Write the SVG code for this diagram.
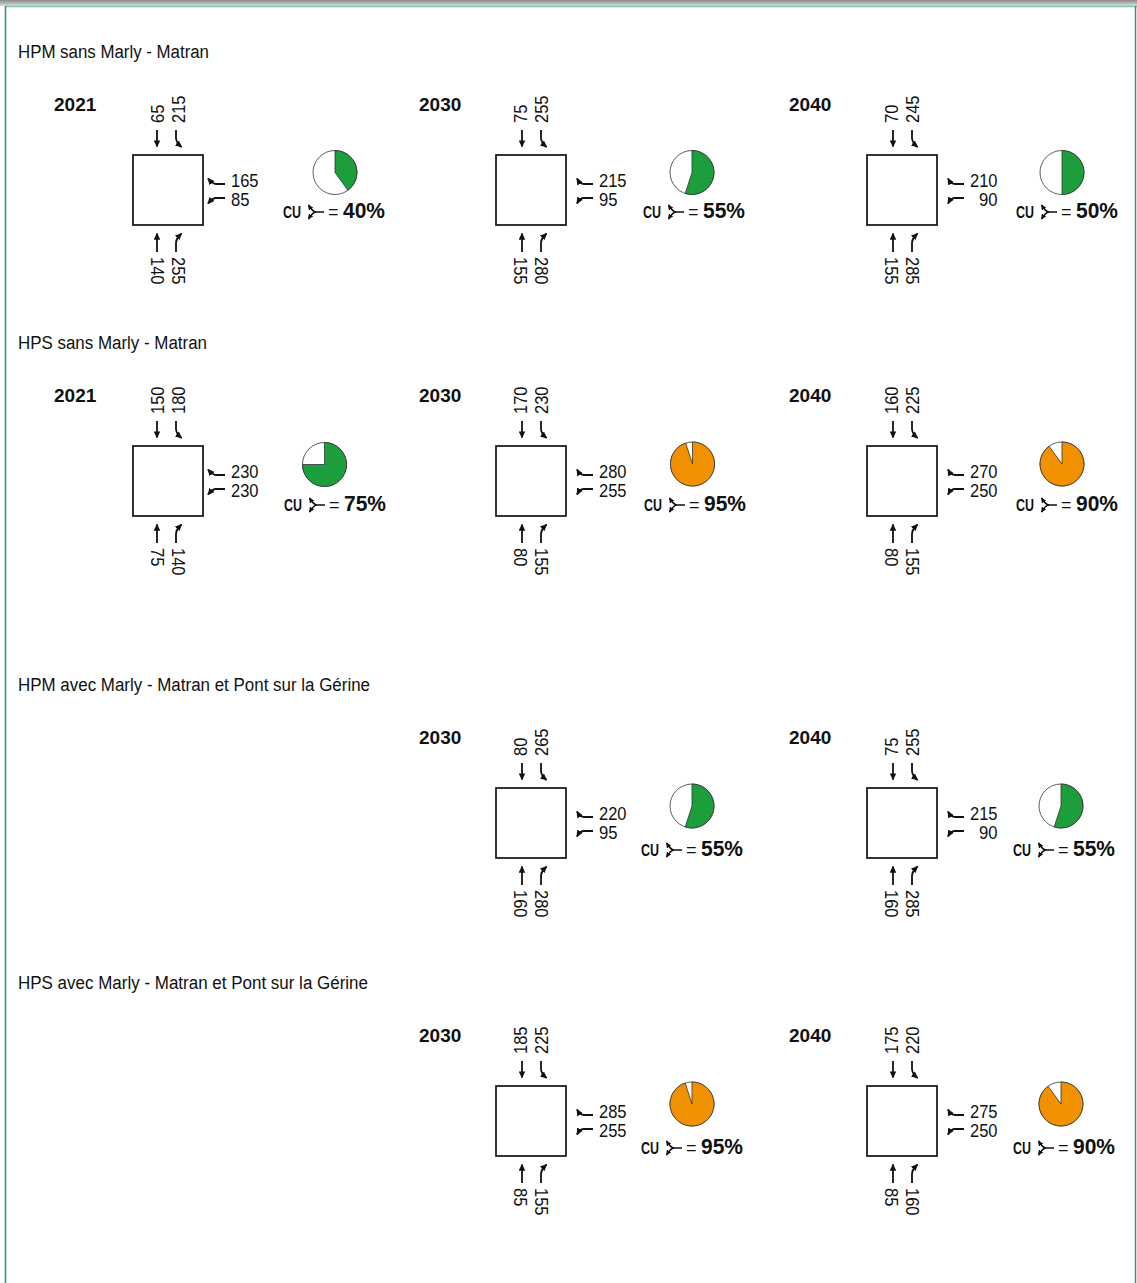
<svg xmlns="http://www.w3.org/2000/svg" width="1137" height="1283" viewBox="0 0 1137 1283">
<style>
text{font-family:"Liberation Sans",Arial,sans-serif;fill:#111}
.ttl{font-size:18px}
.num{font-size:18.5px}
.yr{font-size:19px;font-weight:bold}
.cu{font-size:16px;font-weight:bold}
.eq{font-size:18px}
.pct{font-size:22px;font-weight:bold}
.sq{fill:#fff;stroke:#111;stroke-width:1.7}
.ar{fill:none;stroke:#111;stroke-width:1.8;marker-end:url(#ah)}
.sa{fill:none;stroke:#111;stroke-width:1.6;marker-end:url(#ahs)}
.pbg{fill:#fff;stroke:#333;stroke-width:0.8}
.pg{fill:#1b9e3b;stroke:#333;stroke-width:0.8}
.po{fill:#f29100;stroke:#333;stroke-width:0.8}
</style>
<defs>
<linearGradient id="shadow" x1="0" y1="0" x2="0" y2="1">
<stop offset="0" stop-color="#8a8a8a"/>
<stop offset="1" stop-color="#dedede"/>
</linearGradient>
<marker id="ah" viewBox="0 0 8 8" refX="7" refY="4" markerWidth="7" markerHeight="7" markerUnits="userSpaceOnUse" orient="auto"><path d="M0,0.3 L8,4 L0,7.7 z" fill="#111"/></marker>
<marker id="ahs" viewBox="0 0 8 8" refX="7" refY="4" markerWidth="5.5" markerHeight="5.5" markerUnits="userSpaceOnUse" orient="auto"><path d="M0,0.3 L8,4 L0,7.7 z" fill="#111"/></marker>
<g id="arrA">
<path class="ar" d="M24,-25 V-8.5"/>
<path class="ar" d="M43,-25 V-17 C43,-13 45,-11 48.5,-8"/>
<path class="ar" d="M24,97 V78.5"/>
<path class="ar" d="M43,97 V88 C43,84 45,82 48.5,78.5"/>
<path class="ar" d="M92,29 H83 C80,29 78,27 75,23.5"/>
<path class="ar" d="M92,43 H83 C80,43 78,45 75,48.5"/>
</g>
<g id="arrB">
<path class="ar" d="M26,-25 V-8.5"/>
<path class="ar" d="M45,-25 V-17 C45,-13 47,-11 50.5,-8"/>
<path class="ar" d="M26,97 V78.5"/>
<path class="ar" d="M45,97 V88 C45,84 47,82 50.5,78.5"/>
<path class="ar" d="M97,29 H88 C85,29 83,27 81,23.5"/>
<path class="ar" d="M97,43 H88 C85,43 83,45 81,48.5"/>
</g>
<g id="sym">
<path class="sa" d="M17,0 H9 C6,0 4,-3 1.5,-7"/>
<path class="sa" d="M9,0 C6,0 4,3 1.5,7"/>
</g>
</defs>

<rect x="0" y="0" width="1137" height="1283" fill="#fff"/>
<g id="frame">
<rect x="0" y="0" width="1137" height="6" fill="url(#shadow)"/>
<line x1="5" y1="6.5" x2="1137" y2="6.5" stroke="#7cc4b8" stroke-width="1.5"/>
<line x1="5.5" y1="6" x2="5.5" y2="1283" stroke="#2a9585" stroke-width="1.5"/>
<line x1="1135.5" y1="6" x2="1135.5" y2="1283" stroke="#2a9585" stroke-width="1.5"/>
</g>

<g id="titles">
<text class="ttl" x="18" y="58" textLength="191" lengthAdjust="spacingAndGlyphs">HPM sans Marly - Matran</text>
<text class="ttl" x="18" y="349" textLength="189" lengthAdjust="spacingAndGlyphs">HPS sans Marly - Matran</text>
<text class="ttl" x="18" y="691" textLength="352" lengthAdjust="spacingAndGlyphs">HPM avec Marly - Matran et Pont sur la Gérine</text>
<text class="ttl" x="18" y="989" textLength="350" lengthAdjust="spacingAndGlyphs">HPS avec Marly - Matran et Pont sur la Gérine</text>
</g>

<!-- Row 1 : HPM sans -->
<g id="hpm-sans-2021">
<text class="yr" x="54" y="111">2021</text>
<rect class="sq" x="133" y="155" width="70" height="70"/>
<g class="connectors"><use href="#arrA" x="133" y="155"/></g>
<text class="num" transform="translate(164,123) rotate(-90)" textLength="18.5" lengthAdjust="spacingAndGlyphs">65</text>
<text class="num" transform="translate(184.5,123) rotate(-90)" textLength="27.5" lengthAdjust="spacingAndGlyphs">215</text>
<text class="num" x="231" y="187" textLength="27.5" lengthAdjust="spacingAndGlyphs">165</text>
<text class="num" x="231" y="206" textLength="18.5" lengthAdjust="spacingAndGlyphs">85</text>
<text class="num" transform="translate(151,257) rotate(90)" textLength="27.5" lengthAdjust="spacingAndGlyphs">140</text>
<text class="num" transform="translate(171.5,257) rotate(90)" textLength="27.5" lengthAdjust="spacingAndGlyphs">255</text>
<circle class="pbg" cx="335" cy="172.5" r="22"/>
<path class="pg" d="M335,172.5 L335,150.5 A22,22 0 0 1 347.93,190.3 Z"/>
<text class="cu" x="283" y="218" textLength="18" lengthAdjust="spacingAndGlyphs">CU</text>
<use href="#sym" x="307" y="212"/>
<text class="eq" x="328" y="218">=</text>
<text class="pct" x="343" y="218" textLength="42" lengthAdjust="spacingAndGlyphs">40%</text>
</g>

<g id="hpm-sans-2030">
<text class="yr" x="419" y="111">2030</text>
<rect class="sq" x="496" y="155" width="70" height="70"/>
<g class="connectors"><use href="#arrB" x="496" y="155"/></g>
<text class="num" transform="translate(527,123) rotate(-90)" textLength="18.5" lengthAdjust="spacingAndGlyphs">75</text>
<text class="num" transform="translate(547.5,123) rotate(-90)" textLength="27.5" lengthAdjust="spacingAndGlyphs">255</text>
<text class="num" x="599" y="187" textLength="27.5" lengthAdjust="spacingAndGlyphs">215</text>
<text class="num" x="599" y="206" textLength="18.5" lengthAdjust="spacingAndGlyphs">95</text>
<text class="num" transform="translate(514,257) rotate(90)" textLength="27.5" lengthAdjust="spacingAndGlyphs">155</text>
<text class="num" transform="translate(534.5,257) rotate(90)" textLength="27.5" lengthAdjust="spacingAndGlyphs">280</text>
<circle class="pbg" cx="692" cy="172.5" r="22"/>
<path class="pg" d="M692,172.5 L692,150.5 A22,22 0 1 1 685.2,193.42 Z"/>
<text class="cu" x="643" y="218" textLength="18" lengthAdjust="spacingAndGlyphs">CU</text>
<use href="#sym" x="667" y="212"/>
<text class="eq" x="688" y="218">=</text>
<text class="pct" x="703" y="218" textLength="42" lengthAdjust="spacingAndGlyphs">55%</text>
</g>

<g id="hpm-sans-2040">
<text class="yr" x="789" y="111">2040</text>
<rect class="sq" x="867" y="155" width="70" height="70"/>
<g class="connectors"><use href="#arrB" x="867" y="155"/></g>
<text class="num" transform="translate(898,123) rotate(-90)" textLength="18.5" lengthAdjust="spacingAndGlyphs">70</text>
<text class="num" transform="translate(918.5,123) rotate(-90)" textLength="27.5" lengthAdjust="spacingAndGlyphs">245</text>
<text class="num" x="970" y="187" textLength="27.5" lengthAdjust="spacingAndGlyphs">210</text>
<text class="num" x="979" y="206" textLength="18.5" lengthAdjust="spacingAndGlyphs">90</text>
<text class="num" transform="translate(885,257) rotate(90)" textLength="27.5" lengthAdjust="spacingAndGlyphs">155</text>
<text class="num" transform="translate(905.5,257) rotate(90)" textLength="27.5" lengthAdjust="spacingAndGlyphs">285</text>
<circle class="pbg" cx="1062" cy="172.5" r="22"/>
<path class="pg" d="M1062,172.5 L1062,150.5 A22,22 0 0 1 1062,194.5 Z"/>
<text class="cu" x="1016" y="218" textLength="18" lengthAdjust="spacingAndGlyphs">CU</text>
<use href="#sym" x="1040" y="212"/>
<text class="eq" x="1061" y="218">=</text>
<text class="pct" x="1076" y="218" textLength="42" lengthAdjust="spacingAndGlyphs">50%</text>
</g>

<!-- Row 2 : HPS sans -->
<g id="hps-sans-2021">
<text class="yr" x="54" y="402">2021</text>
<rect class="sq" x="133" y="446" width="70" height="70"/>
<g class="connectors"><use href="#arrA" x="133" y="446"/></g>
<text class="num" transform="translate(164,414) rotate(-90)" textLength="27.5" lengthAdjust="spacingAndGlyphs">150</text>
<text class="num" transform="translate(184.5,414) rotate(-90)" textLength="27.5" lengthAdjust="spacingAndGlyphs">180</text>
<text class="num" x="231" y="478" textLength="27.5" lengthAdjust="spacingAndGlyphs">230</text>
<text class="num" x="231" y="497" textLength="27.5" lengthAdjust="spacingAndGlyphs">230</text>
<text class="num" transform="translate(151,548) rotate(90)" textLength="18.5" lengthAdjust="spacingAndGlyphs">75</text>
<text class="num" transform="translate(171.5,548) rotate(90)" textLength="27.5" lengthAdjust="spacingAndGlyphs">140</text>
<circle class="pbg" cx="324.5" cy="464.5" r="22"/>
<path class="pg" d="M324.5,464.5 L324.5,442.5 A22,22 0 1 1 302.5,464.5 Z"/>
<text class="cu" x="284" y="511" textLength="18" lengthAdjust="spacingAndGlyphs">CU</text>
<use href="#sym" x="308" y="505"/>
<text class="eq" x="329" y="511">=</text>
<text class="pct" x="344" y="511" textLength="42" lengthAdjust="spacingAndGlyphs">75%</text>
</g>

<g id="hps-sans-2030">
<text class="yr" x="419" y="402">2030</text>
<rect class="sq" x="496" y="446" width="70" height="70"/>
<g class="connectors"><use href="#arrB" x="496" y="446"/></g>
<text class="num" transform="translate(527,414) rotate(-90)" textLength="27.5" lengthAdjust="spacingAndGlyphs">170</text>
<text class="num" transform="translate(547.5,414) rotate(-90)" textLength="27.5" lengthAdjust="spacingAndGlyphs">230</text>
<text class="num" x="599" y="478" textLength="27.5" lengthAdjust="spacingAndGlyphs">280</text>
<text class="num" x="599" y="497" textLength="27.5" lengthAdjust="spacingAndGlyphs">255</text>
<text class="num" transform="translate(514,548) rotate(90)" textLength="18.5" lengthAdjust="spacingAndGlyphs">80</text>
<text class="num" transform="translate(534.5,548) rotate(90)" textLength="27.5" lengthAdjust="spacingAndGlyphs">155</text>
<circle class="pbg" cx="692.5" cy="464" r="22"/>
<path class="po" d="M692.5,464 L692.5,442 A22,22 0 1 1 685.7,443.08 Z"/>
<text class="cu" x="644" y="511" textLength="18" lengthAdjust="spacingAndGlyphs">CU</text>
<use href="#sym" x="668" y="505"/>
<text class="eq" x="689" y="511">=</text>
<text class="pct" x="704" y="511" textLength="42" lengthAdjust="spacingAndGlyphs">95%</text>
</g>

<g id="hps-sans-2040">
<text class="yr" x="789" y="402">2040</text>
<rect class="sq" x="867" y="446" width="70" height="70"/>
<g class="connectors"><use href="#arrB" x="867" y="446"/></g>
<text class="num" transform="translate(898,414) rotate(-90)" textLength="27.5" lengthAdjust="spacingAndGlyphs">160</text>
<text class="num" transform="translate(918.5,414) rotate(-90)" textLength="27.5" lengthAdjust="spacingAndGlyphs">225</text>
<text class="num" x="970" y="478" textLength="27.5" lengthAdjust="spacingAndGlyphs">270</text>
<text class="num" x="970" y="497" textLength="27.5" lengthAdjust="spacingAndGlyphs">250</text>
<text class="num" transform="translate(885,548) rotate(90)" textLength="18.5" lengthAdjust="spacingAndGlyphs">80</text>
<text class="num" transform="translate(905.5,548) rotate(90)" textLength="27.5" lengthAdjust="spacingAndGlyphs">155</text>
<circle class="pbg" cx="1062" cy="464" r="22"/>
<path class="po" d="M1062,464 L1062,442 A22,22 0 1 1 1049.07,446.2 Z"/>
<text class="cu" x="1016" y="511" textLength="18" lengthAdjust="spacingAndGlyphs">CU</text>
<use href="#sym" x="1040" y="505"/>
<text class="eq" x="1061" y="511">=</text>
<text class="pct" x="1076" y="511" textLength="42" lengthAdjust="spacingAndGlyphs">90%</text>
</g>

<!-- Row 3 : HPM avec -->
<g id="hpm-avec-2030">
<text class="yr" x="419" y="744">2030</text>
<rect class="sq" x="496" y="788" width="70" height="70"/>
<g class="connectors"><use href="#arrB" x="496" y="788"/></g>
<text class="num" transform="translate(527,756) rotate(-90)" textLength="18.5" lengthAdjust="spacingAndGlyphs">80</text>
<text class="num" transform="translate(547.5,756) rotate(-90)" textLength="27.5" lengthAdjust="spacingAndGlyphs">265</text>
<text class="num" x="599" y="820" textLength="27.5" lengthAdjust="spacingAndGlyphs">220</text>
<text class="num" x="599" y="839" textLength="18.5" lengthAdjust="spacingAndGlyphs">95</text>
<text class="num" transform="translate(514,890) rotate(90)" textLength="27.5" lengthAdjust="spacingAndGlyphs">160</text>
<text class="num" transform="translate(534.5,890) rotate(90)" textLength="27.5" lengthAdjust="spacingAndGlyphs">280</text>
<circle class="pbg" cx="692" cy="806" r="22"/>
<path class="pg" d="M692,806 L692,784 A22,22 0 1 1 685.2,826.92 Z"/>
<text class="cu" x="641" y="856" textLength="18" lengthAdjust="spacingAndGlyphs">CU</text>
<use href="#sym" x="665" y="850"/>
<text class="eq" x="686" y="856">=</text>
<text class="pct" x="701" y="856" textLength="42" lengthAdjust="spacingAndGlyphs">55%</text>
</g>

<g id="hpm-avec-2040">
<text class="yr" x="789" y="744">2040</text>
<rect class="sq" x="867" y="788" width="70" height="70"/>
<g class="connectors"><use href="#arrB" x="867" y="788"/></g>
<text class="num" transform="translate(898,756) rotate(-90)" textLength="18.5" lengthAdjust="spacingAndGlyphs">75</text>
<text class="num" transform="translate(918.5,756) rotate(-90)" textLength="27.5" lengthAdjust="spacingAndGlyphs">255</text>
<text class="num" x="970" y="820" textLength="27.5" lengthAdjust="spacingAndGlyphs">215</text>
<text class="num" x="979" y="839" textLength="18.5" lengthAdjust="spacingAndGlyphs">90</text>
<text class="num" transform="translate(885,890) rotate(90)" textLength="27.5" lengthAdjust="spacingAndGlyphs">160</text>
<text class="num" transform="translate(905.5,890) rotate(90)" textLength="27.5" lengthAdjust="spacingAndGlyphs">285</text>
<circle class="pbg" cx="1061" cy="806" r="22"/>
<path class="pg" d="M1061,806 L1061,784 A22,22 0 1 1 1054.2,826.92 Z"/>
<text class="cu" x="1013" y="856" textLength="18" lengthAdjust="spacingAndGlyphs">CU</text>
<use href="#sym" x="1037" y="850"/>
<text class="eq" x="1058" y="856">=</text>
<text class="pct" x="1073" y="856" textLength="42" lengthAdjust="spacingAndGlyphs">55%</text>
</g>

<!-- Row 4 : HPS avec -->
<g id="hps-avec-2030">
<text class="yr" x="419" y="1042">2030</text>
<rect class="sq" x="496" y="1086" width="70" height="70"/>
<g class="connectors"><use href="#arrB" x="496" y="1086"/></g>
<text class="num" transform="translate(527,1054) rotate(-90)" textLength="27.5" lengthAdjust="spacingAndGlyphs">185</text>
<text class="num" transform="translate(547.5,1054) rotate(-90)" textLength="27.5" lengthAdjust="spacingAndGlyphs">225</text>
<text class="num" x="599" y="1118" textLength="27.5" lengthAdjust="spacingAndGlyphs">285</text>
<text class="num" x="599" y="1137" textLength="27.5" lengthAdjust="spacingAndGlyphs">255</text>
<text class="num" transform="translate(514,1188) rotate(90)" textLength="18.5" lengthAdjust="spacingAndGlyphs">85</text>
<text class="num" transform="translate(534.5,1188) rotate(90)" textLength="27.5" lengthAdjust="spacingAndGlyphs">155</text>
<circle class="pbg" cx="692" cy="1104" r="22"/>
<path class="po" d="M692,1104 L692,1082 A22,22 0 1 1 685.2,1083.08 Z"/>
<text class="cu" x="641" y="1154" textLength="18" lengthAdjust="spacingAndGlyphs">CU</text>
<use href="#sym" x="665" y="1148"/>
<text class="eq" x="686" y="1154">=</text>
<text class="pct" x="701" y="1154" textLength="42" lengthAdjust="spacingAndGlyphs">95%</text>
</g>

<g id="hps-avec-2040">
<text class="yr" x="789" y="1042">2040</text>
<rect class="sq" x="867" y="1086" width="70" height="70"/>
<g class="connectors"><use href="#arrB" x="867" y="1086"/></g>
<text class="num" transform="translate(898,1054) rotate(-90)" textLength="27.5" lengthAdjust="spacingAndGlyphs">175</text>
<text class="num" transform="translate(918.5,1054) rotate(-90)" textLength="27.5" lengthAdjust="spacingAndGlyphs">220</text>
<text class="num" x="970" y="1118" textLength="27.5" lengthAdjust="spacingAndGlyphs">275</text>
<text class="num" x="970" y="1137" textLength="27.5" lengthAdjust="spacingAndGlyphs">250</text>
<text class="num" transform="translate(885,1188) rotate(90)" textLength="18.5" lengthAdjust="spacingAndGlyphs">85</text>
<text class="num" transform="translate(905.5,1188) rotate(90)" textLength="27.5" lengthAdjust="spacingAndGlyphs">160</text>
<circle class="pbg" cx="1061" cy="1104" r="22"/>
<path class="po" d="M1061,1104 L1061,1082 A22,22 0 1 1 1048.07,1086.2 Z"/>
<text class="cu" x="1013" y="1154" textLength="18" lengthAdjust="spacingAndGlyphs">CU</text>
<use href="#sym" x="1037" y="1148"/>
<text class="eq" x="1058" y="1154">=</text>
<text class="pct" x="1073" y="1154" textLength="42" lengthAdjust="spacingAndGlyphs">90%</text>
</g>
</svg>
